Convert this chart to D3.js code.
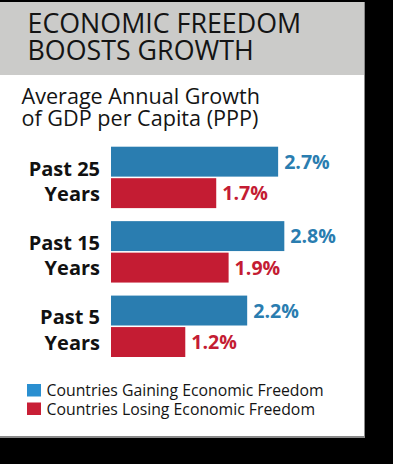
<!DOCTYPE html>
<html>
<head>
<meta charset="utf-8">
<script src="https://cdn.jsdelivr.net/npm/d3@7"></script>
<style>
  html, body { margin: 0; padding: 0; background: #000; }
  svg { display: block; font-family: 'Open Sans', sans-serif; }
</style>
</head>
<body>
<div class="container"></div>
<script>
// Data
const categories = ['Past 25 Years', 'Past 15 Years', 'Past 5 Years'];
const categoryLines = [['Past 25', 'Years'], ['Past 15', 'Years'], ['Past 5', 'Years']];
const seriesNames = ['Countries Gaining Economic Freedom', 'Countries Losing Economic Freedom'];
const gaining = [2.7, 2.8, 2.2];
const losing = [1.7, 1.9, 1.2];

const width = 393;
const height = 464;
const barColors = ['#2a7db0', '#c41c33'];
const legendColors = ['#2a8fd0', '#c81f36'];

const rows = categories.map((c, i) => ({
  category: c,
  lines: categoryLines[i],
  values: [gaining[i], losing[i]],
}));

const svg = d3
  .select('.container')
  .append('svg')
  .attr('width', width)
  .attr('height', height);

// Card + header
svg.append('rect').attr('width', width).attr('height', height).attr('fill', '#000');
svg.append('rect')
  .attr('x', 0).attr('y', 2)
  .attr('width', 365).attr('height', 436)
  .attr('fill', '#8a8a8a');
svg.append('rect')
  .attr('x', 0).attr('y', 2)
  .attr('width', 364).attr('height', 434)
  .attr('fill', '#fff');
svg.append('rect')
  .attr('x', 0).attr('y', 2)
  .attr('width', 364).attr('height', 73)
  .attr('fill', '#cbcbc9');

// Title
const title = svg.append('text')
  .attr('fill', '#141414')
  .style('font-size', '26.8px');
title.append('tspan').attr('x', 27.5).attr('y', 33.3).text('ECONOMIC FREEDOM');
title.append('tspan').attr('x', 27.5).attr('y', 60).text('BOOSTS GROWTH');

// Subtitle
const sub = svg.append('text')
  .attr('fill', '#141414')
  .style('font-size', '21.6px');
sub.append('tspan').attr('x', 21.5).attr('y', 104).text('Average Annual Growth');
sub.append('tspan').attr('x', 21.5).attr('y', 125.5).text('of GDP per Capita (PPP)');

// Scales
const x = d3.scaleLinear().domain([0, 3]).range([111, 111 + 3 * 61.9]);
const y = d3.scaleBand()
  .domain(categories)
  .range([146.7, 357])
  .paddingInner(0.175);
const ySub = d3.scaleBand()
  .domain([0, 1])
  .range([0, y.bandwidth()])
  .paddingInner(0.05);

const groups = svg.append('g')
  .selectAll('g')
  .data(rows)
  .enter()
  .append('g')
  .attr('transform', (d) => `translate(0,${y(d.category)})`);

groups.selectAll('rect')
  .data((d) => d.values)
  .enter()
  .append('rect')
  .attr('x', x(0))
  .attr('y', (d, i) => ySub(i))
  .attr('width', (d) => x(d) - x(0))
  .attr('height', ySub.bandwidth())
  .attr('fill', (d, i) => barColors[i]);

groups.selectAll('text.value')
  .data((d) => d.values)
  .enter()
  .append('text')
  .attr('class', 'value')
  .attr('x', (d) => x(d) + 6)
  .attr('y', (d, i) => ySub(i) + ySub.bandwidth() / 2 + 7)
  .attr('fill', (d, i) => barColors[i])
  .style('font-size', '19.6px')
  .style('font-weight', 700)
  .text((d) => d.toFixed(1) + '%');

// Category labels
groups.append('text')
  .attr('text-anchor', 'end')
  .attr('fill', '#111')
  .style('font-size', '20px')
  .style('font-weight', 700)
  .selectAll('tspan')
  .data((d) => d.lines)
  .enter()
  .append('tspan')
  .attr('x', 100)
  .attr('y', (d, i) => y.bandwidth() / 2 - 1.8 + i * 25.3)
  .text((d) => d);

// Legend
const legend = svg.append('g')
  .selectAll('g')
  .data(seriesNames)
  .enter()
  .append('g')
  .attr('transform', (d, i) => `translate(27,${384 + i * 18.5})`);

legend.append('rect')
  .attr('width', 14)
  .attr('height', 12.5)
  .attr('fill', (d, i) => legendColors[i]);

legend.append('text')
  .attr('x', 19.5)
  .attr('y', 12)
  .attr('fill', '#141414')
  .style('font-size', '15.8px')
  .text((d) => d);
</script>
</body>
</html>
